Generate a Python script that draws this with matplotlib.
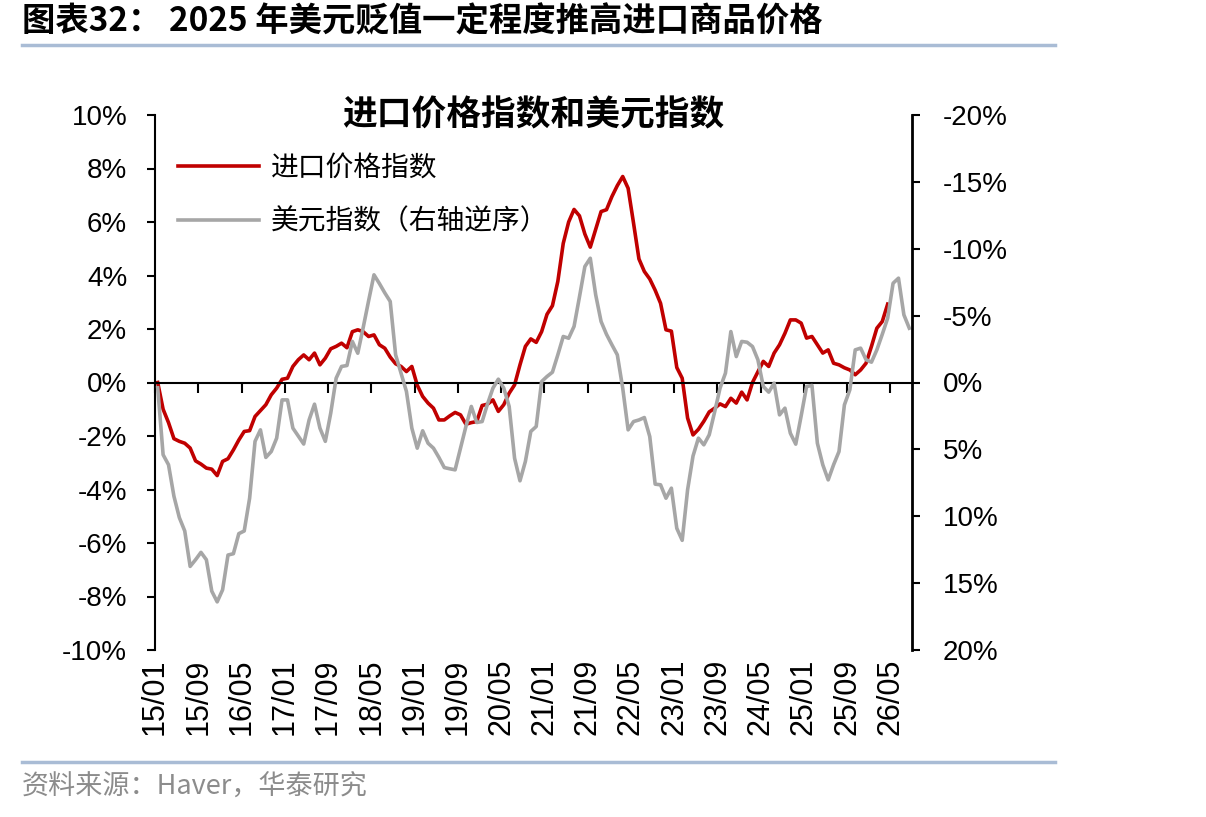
import matplotlib.pyplot as plt
from matplotlib.lines import Line2D
import numpy as np
import pandas as pd

plt.rcParams['font.family'] = ['Liberation Sans', 'Noto Sans CJK SC']
CJK = ['Noto Sans CJK SC', 'DejaVu Sans']

# 月度数据，从 2015/01 开始
months = pd.date_range('2015-01-01', periods=140, freq='MS')

# 进口价格指数同比（%，左轴）
import_price = [
    0.0, -1.0, -1.5, -2.1, -2.2, -2.27, -2.45, -2.93, -3.05, -3.2,
    -3.24, -3.48, -2.95, -2.85, -2.52, -2.15, -1.83, -1.8, -1.27, -1.05,
    -0.83, -0.46, -0.21, 0.12, 0.16, 0.6, 0.85, 1.03, 0.85, 1.1,
    0.66, 0.91, 1.26, 1.35, 1.47, 1.3, 1.9, 1.97, 1.9, 1.72,
    1.78, 1.41, 1.28, 0.95, 0.7, 0.6, 0.41, 0.6, -0.1, -0.52,
    -0.77, -0.96, -1.4, -1.4, -1.25, -1.12, -1.21, -1.56, -1.5, -1.46,
    -0.86, -0.81, -0.65, -1.08, -0.83, -0.4, -0.09, 0.66, 1.35, 1.63,
    1.5, 1.9, 2.55, 2.87, 3.78, 5.2, 6.0, 6.47, 6.23, 5.55,
    5.06, 5.73, 6.39, 6.46, 6.95, 7.36, 7.7, 7.26, 5.96, 4.62,
    4.15, 3.87, 3.45, 2.96, 1.97, 1.92, 0.56, 0.16, -1.33, -1.96,
    -1.75, -1.45, -1.1, -0.96, -0.8, -0.9, -0.59, -0.77, -0.36, -0.65,
    0.0, 0.4, 0.79, 0.6, 1.1, 1.41, 1.84, 2.34, 2.34, 2.22,
    1.66, 1.72, 1.41, 1.1, 1.22, 0.72, 0.66, 0.55, 0.47, 0.29,
    0.47, 0.72, 1.35, 2.03, 2.28, 2.93,
]

# 美元指数同比（%，右轴逆序）
usd_index = [
    0.4, 5.4, 6.15, 8.5, 10.1, 11.1, 13.75, 13.25, 12.7, 13.25,
    15.6, 16.4, 15.5, 12.9, 12.8, 11.3, 11.1, 8.65, 4.4, 3.54,
    5.6, 5.16, 4.16, 1.3, 1.3, 3.41, 4.0, 4.6, 2.8, 1.62,
    3.41, 4.4, 2.29, -0.32, -1.2, -1.27, -3.07, -2.19, -4.1, -6.1,
    -8.05, -7.4, -6.7, -6.06, -2.07, -0.7, 0.67, 3.41, 4.91, 3.61,
    4.54, 4.91, 5.6, 6.36, 6.45, 6.53, 4.9, 3.29, 1.79, 2.99,
    2.92, 1.6, 0.42, -0.25, 0.42, 1.79, 5.66, 7.35, 5.9, 3.66,
    3.29, -0.07, -0.45, -0.77, -2.07, -3.44, -3.31, -4.19, -6.4, -8.67,
    -9.29, -6.56, -4.56, -3.6, -2.82, -2.07, 0.42, 3.54, 2.92, 2.8,
    2.62, 4.04, 7.6, 7.65, 8.65, 7.9, 10.9, 11.8, 8.02, 5.5,
    4.16, 4.66, 3.91, 2.2, 0.42, -0.7, -3.81, -1.94, -3.07, -3.01,
    -2.69, -1.7, 0.3, 0.72, 0.05, 2.42, 1.92, 3.79, 4.61, 2.5,
    0.3, 0.22, 4.54, 6.15, 7.28, 6.15, 5.16, 1.67, 0.55, -2.44,
    -2.57, -1.7, -1.52, -2.44, -3.6, -4.81, -7.42, -7.8, -5.06, -4.06,
]

left_ticks = list(range(-10, 11, 2))
right_ticks = list(range(-20, 21, 5))
x_ticks = list(range(0, 137, 8))
x_labels = [months[t].strftime('%y/%m') for t in x_ticks]

W, H = 1206, 817
fig = plt.figure(figsize=(W / 100, H / 100), dpi=100)
ax = fig.add_axes([155 / W, 1 - 650 / H, (912 - 155) / W, (650 - 115) / H])

x_red = np.arange(len(import_price)) + 0.5
x_usd = np.arange(len(usd_index)) + 0.5

line_red, = ax.plot(x_red, import_price, color='#C00000', lw=2.6)
ax.set_xlim(0, 140)
ax.set_ylim(-10, 10)

ax2 = ax.twinx()
line_usd, = ax2.plot(x_usd, usd_index, color='#A6A6A6', lw=2.6)
ax2.set_ylim(20, -20)

# 坐标轴样式
for s in ['top', 'right']:
    ax.spines[s].set_visible(False)
ax.spines['bottom'].set_position(('data', 0))
ax.spines['bottom'].set_linewidth(1.5)
ax.spines['left'].set_linewidth(1.5)
for s in ['top', 'left', 'bottom']:
    ax2.spines[s].set_visible(False)
ax2.spines['right'].set_linewidth(2)

ax.set_yticks(left_ticks, [f'{v}%' for v in left_ticks])
ax.tick_params(axis='y', direction='out', length=6, width=1.5, labelsize=20, pad=14)
ax2.set_yticks(right_ticks, [f'{v}%' for v in right_ticks])
ax2.tick_params(axis='y', direction='out', length=6, width=1.5, labelsize=20, pad=16)

ax.set_xticks(x_ticks)
ax.tick_params(axis='x', direction='out', length=7, width=1.5, labelbottom=False)
sec = ax.secondary_xaxis('bottom')
sec.set_xticks(x_ticks, x_labels, rotation=90)
sec.tick_params(length=0, pad=6, labelsize=22)
sec.spines['bottom'].set_visible(False)

ax.text(0.5, 1.0, '进口价格指数和美元指数', transform=ax.transAxes,
        ha='center', va='center', fontsize=25, fontweight='bold', family=CJK)

ax2.legend([line_red, line_usd], ['进口价格指数', '美元指数（右轴逆序）'],
           loc='upper left', bbox_to_anchor=(178 / W, 1 - 153 / H),
           bbox_transform=fig.transFigure, frameon=False,
           prop={'family': CJK, 'size': 20}, handlelength=2.9,
           handletextpad=0.45, labelspacing=0.85, borderpad=0, borderaxespad=0)

# 标题、分隔线和来源
fig.text(22 / W, 1 - 22 / H, '图表32： 2025 年美元贬值一定程度推高进口商品价格',
         fontsize=24, fontweight='bold', va='center', family=CJK)
fig.add_artist(Line2D([22 / W, 1055 / W], [1 - 45 / H] * 2, color='#A9BCD5', lw=2.5))
fig.add_artist(Line2D([22 / W, 1055 / W], [1 - 762 / H] * 2, color='#A9BCD5', lw=2.5))
fig.text(22 / W, 1 - 787 / H, '资料来源：Haver，华泰研究', color='#8C8C8C',
         fontsize=19.5, va='center', family=CJK)

fig.savefig('out.png', dpi=100)
